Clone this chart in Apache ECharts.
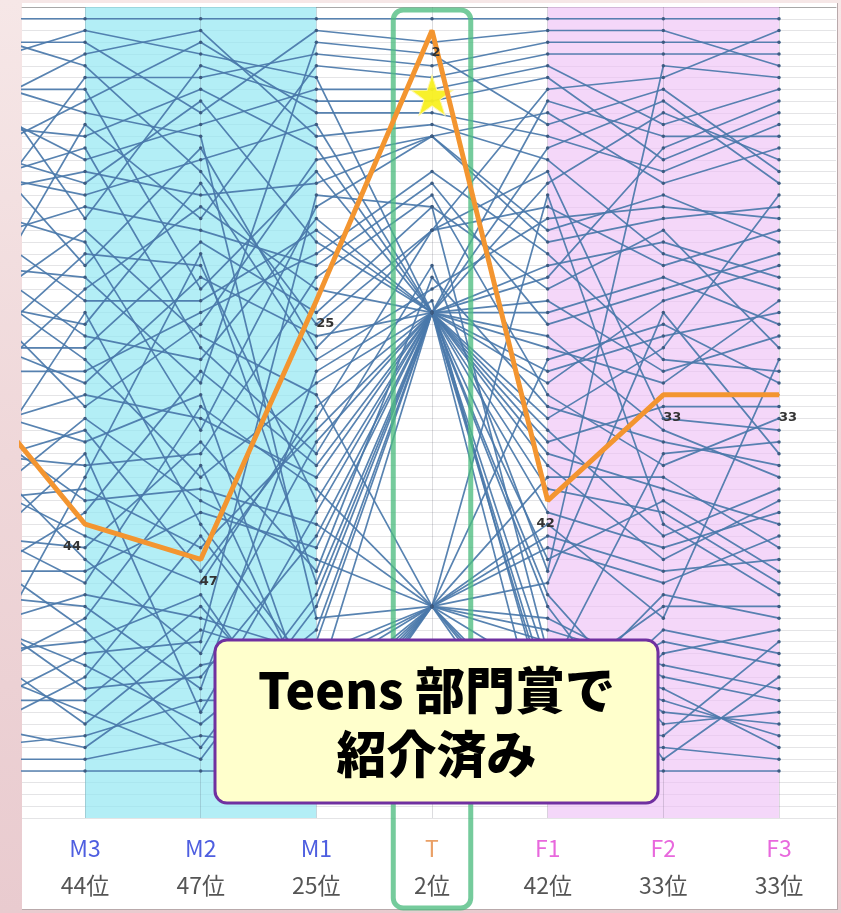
<!DOCTYPE html>
<html>
<head>
<meta charset="utf-8">
<script src="https://cdn.jsdelivr.net/npm/echarts@6/dist/echarts.min.js"></script>
<style>
  html, body { margin: 0; padding: 0; width: 841px; height: 913px; overflow: hidden;
    background: linear-gradient(180deg, #f6e7e7 0%, #efd7d9 50%, #e9cbcf 100%); }
  #panel { position: absolute; left: 22px; top: 3px; width: 815px; height: 906px; background: #fff;
    border-right: 1px solid #b9a9ab; border-bottom: 1px solid #b9a9ab; }
  #chart { position: absolute; left: 0; top: 0; width: 841px; height: 913px; }
</style>
</head>
<body>
<div id="panel"></div>
<div id="chart"></div>
<script>
// Axis names along the bottom (age/gender groups)
const axisNames = ['M3', 'M2', 'M1', 'T', 'F1', 'F2', 'F3'];
const axisGroup = ['m', 'm', 'm', 't', 'f', 'f', 'f'];

// Highlighted title: lead-in column (left of M3), then M3 .. F3
const highlightRanks = [32, 44, 47, 25, 2, 42, 33, 33];
// Horizontal nudges of the rank labels on the highlighted line
const highlightLabelDx = [0, -13, 8, 9, 4, -2, 9, 9];

// Ranks of the other titles, one array per column (same title order in each)
const rankLead = [1, 5, 3, 9, 2, 19, 7, 13, 6, 27, 10, 15, 8, 16, 12, 14,
  20, 4, 26, 17, 30, 11, 22, 33, 18, 41, 25, 21, 29, 23, 31, 28,
  36, 24, 43, 39, 34, 47, 38, 58, 42, 35, 49, 40, 45, 37, 48, 44,
  53, 50, 57, 46, 55, 60, 52, 62, 51, 59, 56, 54, 63, 61, 64, 65];
const rankM3 = [1, 2, 3, 4, 5, 6, 7, 8, 9, 10, 11, 12, 13, 14, 15, 16,
  17, 18, 19, 20, 21, 22, 23, 24, 25, 26, 27, 28, 29, 30, 31, 32,
  33, 34, 35, 36, 37, 38, 39, 40, 41, 42, 43, 45, 46, 47, 48, 49,
  50, 51, 52, 53, 54, 55, 56, 57, 58, 59, 60, 61, 62, 63, 64, 65];
const rankM2 = [1, 4, 9, 2, 14, 6, 24, 3, 11, 18, 7, 29, 10, 16, 8, 13,
  19, 5, 28, 36, 22, 12, 32, 17, 25, 44, 15, 30, 20, 40, 26, 23,
  35, 27, 42, 48, 33, 60, 38, 21, 46, 41, 31, 49, 37, 55, 43, 34,
  52, 58, 39, 63, 50, 54, 61, 45, 57, 51, 64, 53, 59, 56, 62, 65];
const rankM1 = [1, 6, 2, 11, 27, 4, 14, 9, 52, 5, 12, 38, 7, 15, 20, 10,
  22, 8, 33, 17, 42, 29, 3, 24, 19, 57, 30, 18, 26, 32, 21, 28,
  40, 13, 47, 35, 61, 43, 23, 49, 36, 44, 39, 34, 48, 37, 46, 41,
  55, 31, 60, 50, 64, 16, 53, 58, 45, 62, 51, 56, 59, 54, 63, 65];
const rankT = [1, 26, 3, 10, 19, 5, 26, 9, 51, 6, 26, 22, 7, 11, 26, 26,
  15, 8, 51, 11, 26, 19, 4, 26, 26, 51, 24, 26, 17, 26, 14, 26,
  26, 11, 51, 19, 51, 26, 16, 26, 26, 51, 26, 26, 23, 26, 26, 51,
  51, 25, 51, 26, 51, 17, 26, 26, 26, 51, 26, 51, 51, 26, 51, 51];
const rankF1 = [1, 23, 2, 13, 7, 3, 35, 11, 57, 4, 15, 48, 5, 9, 12, 8,
  27, 6, 44, 20, 31, 17, 10, 25, 22, 30, 18, 29, 24, 32, 21, 26,
  38, 19, 45, 14, 49, 36, 33, 41, 28, 46, 37, 43, 34, 47, 39, 40,
  53, 60, 16, 50, 62, 55, 58, 51, 64, 54, 59, 52, 61, 56, 63, 65];
const rankF2 = [1, 12, 2, 21, 6, 3, 29, 14, 38, 4, 9, 5, 10, 15, 8, 11,
  24, 13, 52, 18, 28, 22, 7, 31, 20, 27, 17, 32, 19, 25, 30, 23,
  41, 16, 48, 35, 26, 45, 39, 43, 36, 49, 34, 46, 37, 42, 47, 40,
  56, 50, 44, 61, 53, 58, 51, 64, 55, 60, 54, 57, 62, 59, 63, 65];
const rankF3 = [1, 8, 5, 24, 2, 3, 16, 10, 37, 4, 13, 6, 7, 12, 15, 11,
  21, 9, 30, 17, 26, 19, 14, 28, 23, 32, 18, 25, 29, 22, 31, 27,
  44, 20, 47, 36, 38, 41, 35, 49, 40, 45, 34, 43, 39, 48, 42, 46,
  58, 52, 50, 60, 55, 63, 51, 57, 53, 61, 56, 59, 54, 62, 64, 65];

const rankColumns = [rankLead, rankM3, rankM2, rankM1, rankT, rankF1, rankF2, rankF3];
// Column positions on the x axis: lead-in column sits just off the left edge
const columnX = [-1, 0, 1, 2, 3, 4, 5, 6];

const starPath = 'path://M50,2 L61,36 L97,36 L68,57 L79,92 L50,71 L21,92 L32,57 L3,36 L39,36 Z';

const chart = echarts.init(document.getElementById('chart'), null, { renderer: 'canvas' });

const series = [];

// Background bands (male block, female block) and the thin axis guides
series.push({
  type: 'line', z: 1, silent: true, data: [[-1, 0]], symbol: 'none',
  lineStyle: { opacity: 0 },
  markArea: {
    silent: true,
    data: [
      [{ xAxis: 0, itemStyle: { color: 'rgba(150,232,242,0.72)' } }, { xAxis: 2 }],
      [{ xAxis: 4, itemStyle: { color: 'rgba(238,190,245,0.62)' } }, { xAxis: 6 }]
    ]
  },
  markLine: {
    silent: true, symbol: 'none', label: { show: false },
    lineStyle: { color: 'rgba(60,60,80,0.18)', width: 1, type: 'solid' },
    data: axisNames.map((n, i) => ({ xAxis: i }))
  }
});

const itemCount = rankM3.length;
for (let k = 0; k < itemCount; k++) {
  series.push({
    type: 'line', z: 3, silent: true, clip: true,
    data: rankColumns.map((col, c) => [columnX[c], col[k]]),
    symbol: 'circle', symbolSize: 3.5, showSymbol: true,
    itemStyle: { color: '#3d5e86' },
    lineStyle: { color: '#4a78aa', width: 1.7, opacity: 0.92 },
    emphasis: { disabled: true }
  });
}

// Highlighted title
series.push({
  type: 'line', z: 10, silent: true, clip: true,
  data: highlightRanks.map((r, c) => ({
    value: [columnX[c], r],
    label: { show: c > 0, offset: [highlightLabelDx[c], 0] }
  })),
  symbol: 'circle', symbolSize: 2, showSymbol: true,
  itemStyle: { color: '#f39530' },
  lineStyle: { color: '#f39530', width: 5 },
  label: {
    show: true, position: 'bottom', distance: 15,
    fontSize: 13, fontWeight: 'bold', color: '#333', fontFamily: 'DejaVu Sans',
    formatter: p => String(p.value[1])
  },
  markPoint: {
    silent: true,
    symbol: starPath, symbolSize: [42, 40],
    itemStyle: { color: '#f8f020', borderColor: '#fff7a8', borderWidth: 1, opacity: 0.95 },
    label: { show: false },
    data: [{ coord: [3, 7.5] }]
  }
});

const labelValues = axisNames.map((n, i) => i);

chart.setOption({
  animation: false,
  backgroundColor: 'transparent',
  grid: { left: 22, top: 7, width: 814, height: 811, containLabel: false },
  xAxis: {
    type: 'value', min: -0.545, max: 6.493,
    axisLine: { show: true, lineStyle: { color: '#a8a8a8', width: 1 } },
    axisTick: { show: false },
    splitLine: { show: false },
    axisLabel: {
      customValues: labelValues,
      margin: 12,
      formatter: v => {
        const i = Math.round(v);
        return '{' + axisGroup[i] + '|' + axisNames[i] + '}\n{r|' + highlightRanks[i + 1] + '位}';
      },
      rich: {
        m: { color: '#4e5ee0', fontSize: 23, lineHeight: 37, fontFamily: 'Noto Sans CJK JP' },
        t: { color: '#eaa066', fontSize: 23, lineHeight: 37, fontFamily: 'Noto Sans CJK JP' },
        f: { color: '#e868dd', fontSize: 23, lineHeight: 37, fontFamily: 'Noto Sans CJK JP' },
        r: { color: '#555', fontSize: 23, lineHeight: 37, fontFamily: 'Noto Sans CJK JP' }
      }
    }
  },
  yAxis: {
    type: 'value', inverse: true, min: 0, max: 69, interval: 1,
    axisLine: { show: false }, axisTick: { show: false }, axisLabel: { show: false },
    splitLine: { show: true, lineStyle: { color: 'rgba(90,90,100,0.16)', width: 1 } }
  },
  series: series
});

// Annotations: frame around the T column and the callout note
const tLeft = chart.convertToPixel({ gridIndex: 0 }, [3 - 0.335, 0.25]);
const tRight = chart.convertToPixel({ gridIndex: 0 }, [3 + 0.335, 69]);
chart.setOption({
  graphic: [
    {
      type: 'rect', z: 8, silent: true,
      shape: { x: tLeft[0], y: tLeft[1], width: tRight[0] - tLeft[0], height: tRight[1] + 90 - tLeft[1], r: 10 },
      style: { fill: 'none', stroke: 'rgba(78,188,128,0.78)', lineWidth: 5 }
    },
    {
      type: 'group', z: 50, silent: true,
      children: [
        {
          type: 'rect', z: 50,
          shape: { x: 215, y: 640, width: 443, height: 163, r: 12 },
          style: { fill: '#ffffcc', stroke: '#7030a0', lineWidth: 3 }
        },
        {
          type: 'text', z: 51, x: 436.5, y: 722,
          style: {
            text: 'Teens 部門賞で\n紹介済み',
            fill: '#000', font: '900 50px "Noto Sans CJK JP"',
            align: 'center', verticalAlign: 'middle', lineHeight: 64
          }
        }
      ]
    }
  ]
});
</script>
</body>
</html>
